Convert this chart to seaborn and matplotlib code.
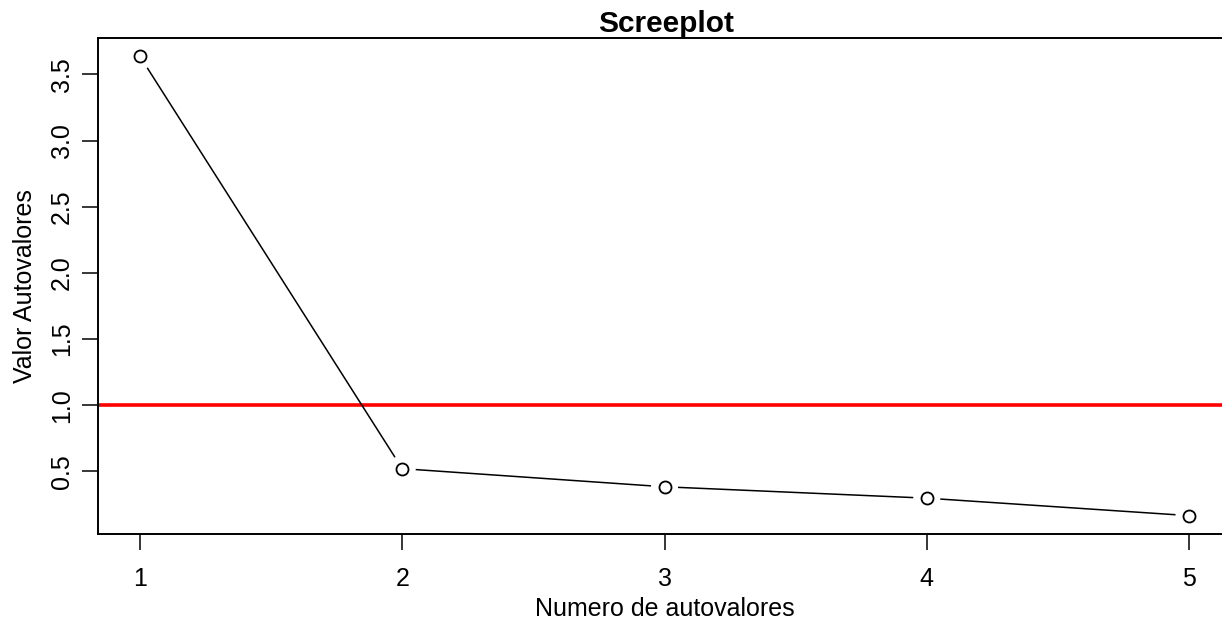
import pandas as pd
import seaborn as sns
import matplotlib.pyplot as plt

componentes = [1, 2, 3, 4, 5]
autovalores = [3.636, 0.520, 0.383, 0.297, 0.165]
umbral = 1.0
y_ticks = [0.5, 1.0, 1.5, 2.0, 2.5, 3.0, 3.5]

sns.set_style("ticks")
plt.rcParams['font.family'] = ['Liberation Sans', 'DejaVu Sans']
plt.rcParams['text.color'] = 'black'
plt.rcParams['axes.labelcolor'] = 'black'

df = pd.DataFrame({'comp': componentes, 'valor': autovalores})

fig = plt.figure(figsize=(12.22, 6.25), dpi=100)
ax = fig.add_axes([98 / 1222, 1 - 534 / 625, (1231 - 98) / 1222, (534 - 38) / 625])

# R-style type="b": line with gaps around open circles
sns.lineplot(data=df, x='comp', y='valor', ax=ax, color='black', linewidth=1.1, zorder=2)
sns.scatterplot(data=df, x='comp', y='valor', ax=ax, s=380, color='white',
                edgecolor='none', zorder=3)
sns.scatterplot(data=df, x='comp', y='valor', ax=ax, s=75, facecolor='white',
                edgecolor='black', linewidth=1.3, zorder=4)
ax.axhline(umbral, color='#ff0000', linewidth=2.6, zorder=1)

span_y = max(autovalores) - min(autovalores)
ax.set_xlim(1 - 0.04 * 4, 5 + 0.04 * 4)
ax.set_ylim(min(autovalores) - 0.04 * span_y, max(autovalores) + 0.04 * span_y)
ax.set_xticks(componentes)
ax.set_yticks(y_ticks)
ax.set_yticklabels([f'{v:.1f}' for v in y_ticks], rotation=90, va='center')

for s in ax.spines.values():
    s.set_linewidth(1.4)
    s.set_color('black')
ax.tick_params(axis='both', direction='out', length=11.5, width=1.1,
               color='black', labelsize=18, labelcolor='black')
ax.tick_params(axis='x', pad=12)
ax.tick_params(axis='y', pad=6)

ax.set_title('Screeplot', fontsize=21.5, fontweight='bold', pad=3, color='black',
             x=(666 - 98) / (1231 - 98))
ax.set_xlabel('Numero de autovalores', fontsize=18, labelpad=4.5)
ax.set_ylabel('Valor Autovalores', fontsize=18, labelpad=9)

fig.savefig('out.png', dpi=100)
